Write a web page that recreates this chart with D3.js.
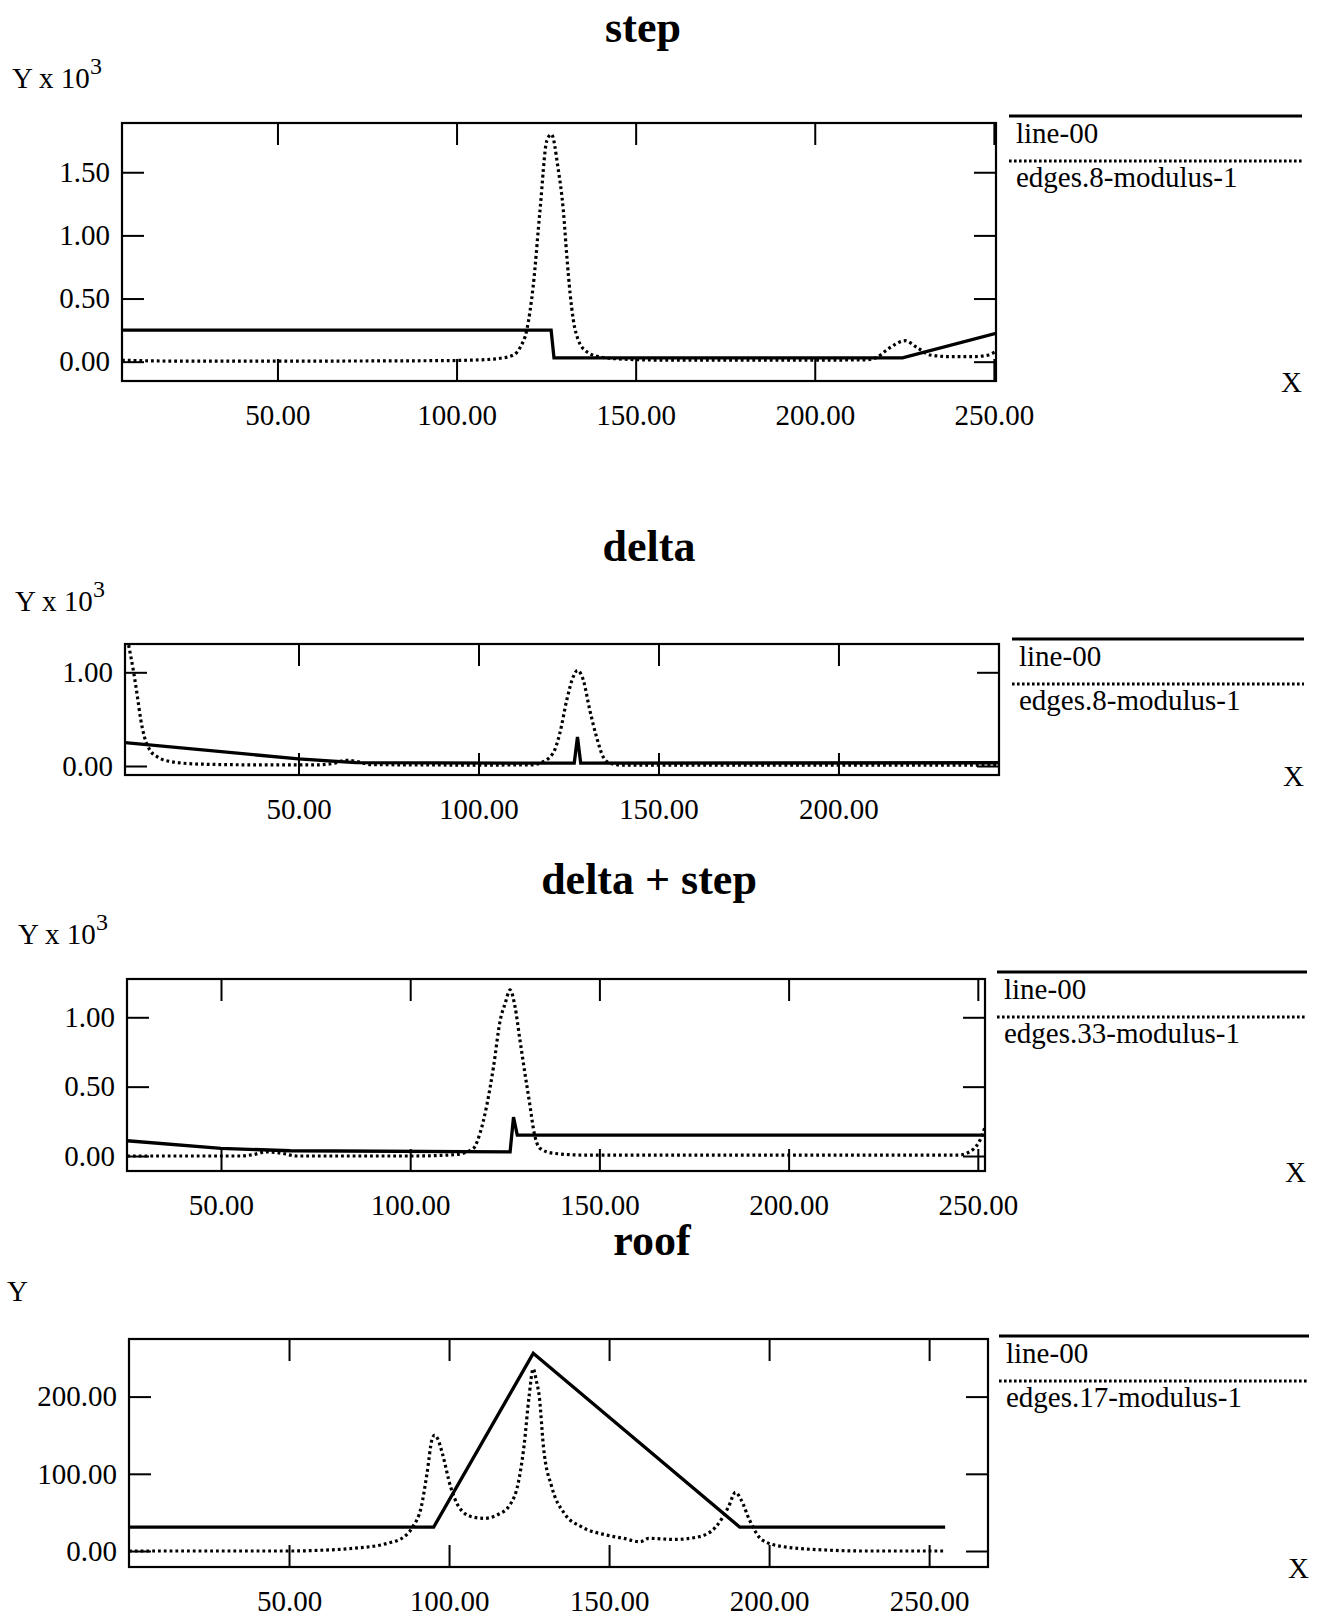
<!DOCTYPE html>
<html><head><meta charset="utf-8">
<script src="https://cdn.jsdelivr.net/npm/d3@7"></script>
<style>body{margin:0;background:#fff} svg{display:block}</style>
</head><body>
<script>
// ---------------- DATA ----------------
const titles = ["step", "delta", "delta + step", "roof"];
const yAxisLabels = ["Y x 10", "Y x 10", "Y x 10", "Y"];
const yAxisSup = ["3", "3", "3", ""];
const seriesSolidName = "line-00";
const seriesDottedNames = ["edges.8-modulus-1", "edges.8-modulus-1", "edges.33-modulus-1", "edges.17-modulus-1"];

const xTicks1 = [50, 100, 150, 200, 250];
const xTicks2 = [50, 100, 150, 200];
const xTicks3 = [50, 100, 150, 200, 250];
const xTicks4 = [50, 100, 150, 200, 250];
const yTicks1 = [0, 0.5, 1.0, 1.5];
const yTicks2 = [0, 1.0];
const yTicks3 = [0, 0.5, 1.0];
const yTicks4 = [0, 100, 200];

// step
const stepLine = [[6.6,0.25],[126.4,0.25],[127.2,0.03],[224.5,0.03],[250.6,0.225]];
const stepEdges = [[6.6,0.012],[20,0.005],[60,0.005],[95,0.008],[105,0.013],[110,0.02],[112.2,0.027],[115.9,0.053],[117.9,0.12],[119.6,0.25],[121.4,0.6],[123.3,1.2],[125.2,1.75],[126.5,1.8],[128.3,1.54],[129.8,1.2],[130.8,0.83],[131.7,0.54],[132.6,0.33],[134,0.17],[136.3,0.08],[139.6,0.04],[146.6,0.02],[160,0.012],[200,0.012],[214,0.015],[217,0.03],[220,0.09],[222,0.13],[225.2,0.166],[228.9,0.106],[232.2,0.053],[237.8,0.04],[244.3,0.04],[248,0.05],[250.5,0.08]];

// delta
const deltaLine = [[1.8,0.25],[50,0.075],[66,0.035],[126.6,0.03],[127.5,0.31],[128.4,0.03],[244.6,0.035]];
const deltaEdges = [[2.8,1.29],[4.25,0.99],[5.25,0.74],[6.2,0.49],[7.2,0.31],[8.7,0.17],[10.7,0.10],[14.7,0.046],[22.6,0.02],[40,0.012],[55,0.012],[60,0.03],[63,0.06],[66,0.05],[70,0.015],[100,0.01],[115,0.012],[117,0.03],[120.7,0.135],[122.6,0.35],[124.5,0.70],[126.3,0.95],[127.5,1.02],[129.1,0.92],[130.9,0.60],[132.8,0.31],[134.6,0.10],[136.5,0.03],[140,0.01],[244.6,0.01]];

// delta + step
const dsLine = [[25.2,0.11],[50,0.055],[68.3,0.038],[126.4,0.03],[127.3,0.28],[128.3,0.151],[251.9,0.151]];
const dsEdges = [[25.2,0.0],[55,0.0],[58.5,0.01],[62,0.03],[66,0.02],[70,0.0],[100,0.0],[112,0.01],[116.7,0.055],[118.4,0.16],[120.2,0.36],[122,0.64],[123.8,0.98],[125.1,1.10],[126.4,1.197],[127.7,1.077],[129,0.836],[130.3,0.60],[131.7,0.355],[132.6,0.19],[134.3,0.055],[137.8,0.02],[145.8,0.007],[245,0.007],[247.1,0.02],[250.6,0.115],[251.9,0.21]];

// roof
const roofLine = [[0,31],[95.2,31],[126.3,256],[190.8,31],[255,31]];
const roofEdges = [[0,0],[50,0],[60,1],[70.2,3.5],[80.8,10],[86,18.5],[88.7,31.5],[91.3,57],[93.1,100],[94.7,145],[95.5,150],[96.5,145],[97.9,126.5],[100.5,83],[103.1,57],[107.1,44.4],[111,42.3],[115,46.6],[119,59.6],[121.6,87.7],[123.4,135],[125,200],[126.3,236],[127.3,220],[128.2,200],[129.5,135],[132.1,83],[136,48.8],[141.3,31.5],[149.2,20.7],[154.5,16.4],[159.7,12],[162.4,16.4],[170.3,15],[178.1,18.5],[183.4,31.5],[187.3,57],[189.5,76],[191.3,66],[193.9,40],[197.9,14],[204.5,5.6],[217.6,1.3],[230,0],[255,0]];

// ---------------- LAYOUT ----------------
const W = 1321, H = 1619;
const FONT = "'Liberation Serif','Times New Roman',Times,serif";
const FS = 29;
const layouts = [
  {left:122, right:996, top:123, bottom:381, xd:[6.6,250.6], yd:[-0.153,1.89], tx:643, ty:42, ylx:12, yly:88, lx0:1009, lx1:1302, ly:116, xr:1302},
  {left:125, right:999, top:644, bottom:775, xd:[1.8,244.6], yd:[-0.096,1.302], tx:649, ty:561, ylx:15, yly:611, lx0:1012, lx1:1304, ly:639, xr:1304},
  {left:127, right:985, top:979, bottom:1171, xd:[25.16,251.9], yd:[-0.108,1.276], tx:649, ty:894, ylx:18, yly:944, lx0:997, lx1:1307, ly:972, xr:1306},
  {left:129, right:988, top:1339, bottom:1567, xd:[0,268.4], yd:[-20.7,274.6], tx:652, ty:1255, ylx:7, yly:1301, lx0:999, lx1:1309, ly:1336, xr:1309}
];
const xTicksAll = [xTicks1, xTicks2, xTicks3, xTicks4];
const yTicksAll = [yTicks1, yTicks2, yTicks3, yTicks4];
const solids = [stepLine, deltaLine, dsLine, roofLine];
const dotteds = [stepEdges, deltaEdges, dsEdges, roofEdges];

const svg = d3.select("body").append("svg").attr("width", W).attr("height", H)
  .style("font-family", FONT);
svg.append("rect").attr("width", W).attr("height", H).attr("fill", "#fff");

const fmt = d3.format(".2f");
const TICK = 22;

layouts.forEach((L, i) => {
  const x = d3.scaleLinear().domain(L.xd).range([L.left, L.right]);
  const y = d3.scaleLinear().domain(L.yd).range([L.bottom, L.top]);
  const g = svg.append("g");

  const clipId = "clip" + i;
  svg.append("clipPath").attr("id", clipId).append("rect")
    .attr("x", L.left).attr("y", L.top).attr("width", L.right - L.left).attr("height", L.bottom - L.top);

  const styleAxis = (sel) => {
    sel.attr("font-family", FONT).attr("font-size", FS);
    sel.select(".domain").remove();
    sel.selectAll(".tick line").attr("stroke", "#000").attr("stroke-width", 2);
    sel.selectAll(".tick text").attr("fill", "#000");
  };

  g.append("g").attr("transform", `translate(0,${L.bottom})`)
    .call(d3.axisBottom(x).tickValues(xTicksAll[i]).tickSize(-TICK).tickPadding(23).tickFormat(fmt))
    .call(styleAxis);
  g.append("g").attr("transform", `translate(0,${L.top})`)
    .call(d3.axisTop(x).tickValues(xTicksAll[i]).tickSize(-TICK).tickFormat(""))
    .call(styleAxis);
  g.append("g").attr("transform", `translate(${L.left},0)`)
    .call(d3.axisLeft(y).tickValues(yTicksAll[i]).tickSize(-TICK).tickPadding(12).tickFormat(fmt))
    .call(styleAxis);
  g.append("g").attr("transform", `translate(${L.right},0)`)
    .call(d3.axisRight(y).tickValues(yTicksAll[i]).tickSize(-TICK).tickFormat(""))
    .call(styleAxis);

  g.append("rect").attr("x", L.left).attr("y", L.top)
    .attr("width", L.right - L.left).attr("height", L.bottom - L.top)
    .attr("fill", "none").attr("stroke", "#000").attr("stroke-width", 2.2);

  const linearLine = d3.line().x(d => x(d[0])).y(d => y(d[1]));
  const smoothLine = d3.line().x(d => x(d[0])).y(d => y(d[1])).curve(d3.curveMonotoneX);

  const plot = g.append("g").attr("clip-path", `url(#${clipId})`);
  plot.append("path").datum(dotteds[i]).attr("d", smoothLine)
    .attr("fill", "none").attr("stroke", "#000").attr("stroke-width", 3.2)
    .attr("stroke-dasharray", "2.8,3");
  plot.append("path").datum(solids[i]).attr("d", linearLine)
    .attr("fill", "none").attr("stroke", "#000").attr("stroke-width", 3.3)
    .attr("stroke-linejoin", "miter");

  // title
  svg.append("text").attr("x", L.tx).attr("y", L.ty).attr("text-anchor", "middle")
    .attr("font-size", 44).attr("font-weight", "bold").text(titles[i]);

  // y label
  const yl = svg.append("text").attr("x", L.ylx).attr("y", L.yly).attr("font-size", FS);
  yl.append("tspan").text(yAxisLabels[i]);
  if (yAxisSup[i]) yl.append("tspan").attr("dy", -14).attr("font-size", 24).text(yAxisSup[i]);

  // X label
  svg.append("text").attr("x", L.xr).attr("y", L.bottom + 11).attr("text-anchor", "end")
    .attr("font-size", FS).text("X");

  // legend
  svg.append("line").attr("x1", L.lx0).attr("x2", L.lx1).attr("y1", L.ly).attr("y2", L.ly)
    .attr("stroke", "#000").attr("stroke-width", 2.8);
  svg.append("text").attr("x", L.lx0 + 7).attr("y", L.ly + 27).attr("font-size", FS).text(seriesSolidName);
  svg.append("line").attr("x1", L.lx0).attr("x2", L.lx1).attr("y1", L.ly + 45).attr("y2", L.ly + 45)
    .attr("stroke", "#000").attr("stroke-width", 2.8).attr("stroke-dasharray", "2.6,2.4");
  svg.append("text").attr("x", L.lx0 + 7).attr("y", L.ly + 71).attr("font-size", FS).text(seriesDottedNames[i]);
});
</script>
</body></html>
